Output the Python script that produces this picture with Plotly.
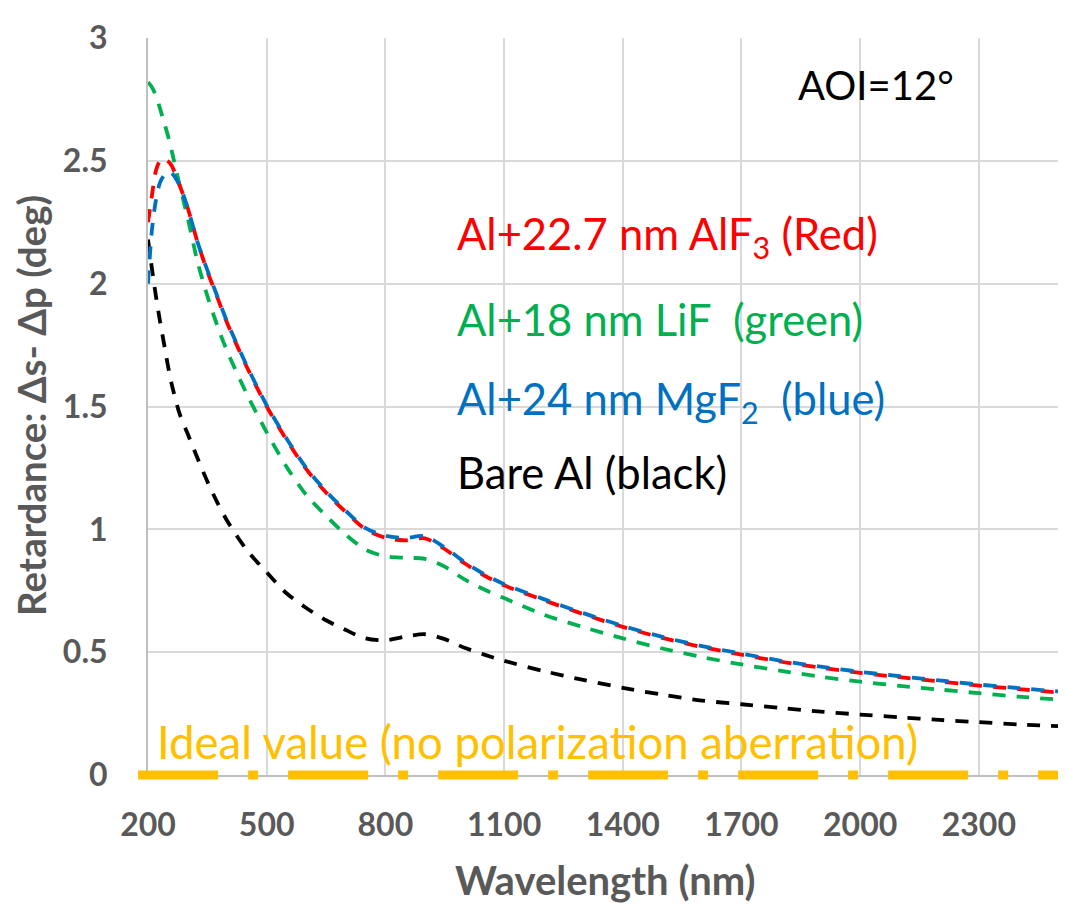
import plotly.graph_objects as go

# ---------------- data ----------------
wavelength = [200, 210, 220, 230, 240, 250, 260, 280, 300, 325, 350, 375, 400, 450, 500,
              550, 600, 650, 700, 750, 800, 850, 900, 950, 1000, 1050, 1100, 1200, 1300,
              1400, 1500, 1600, 1700, 1800, 1900, 2000, 2100, 2200, 2300, 2400, 2500]

alf3_red = [2.25, 2.36, 2.46, 2.50, 2.51, 2.50, 2.48, 2.40, 2.31, 2.17, 2.05, 1.945, 1.84, 1.66, 1.50,
            1.365, 1.245, 1.15, 1.07, 1.00, 0.966, 0.955, 0.963, 0.92, 0.862, 0.812, 0.772, 0.712, 0.655,
            0.603, 0.558, 0.521, 0.49, 0.461, 0.437, 0.416, 0.398, 0.381, 0.364, 0.35, 0.336]

lif_green = [2.82, 2.80, 2.765, 2.715, 2.66, 2.605, 2.54, 2.40, 2.27, 2.09, 1.95, 1.83, 1.725, 1.55, 1.395,
             1.255, 1.14, 1.055, 0.978, 0.917, 0.89, 0.884, 0.88, 0.848, 0.796, 0.755, 0.72, 0.653, 0.602,
             0.556, 0.515, 0.48, 0.45, 0.424, 0.40, 0.38, 0.363, 0.348, 0.333, 0.319, 0.307]

mgf2_blue = [2.00, 2.22, 2.34, 2.41, 2.44, 2.455, 2.45, 2.40, 2.31, 2.17, 2.055, 1.95, 1.845, 1.665, 1.505,
             1.37, 1.25, 1.155, 1.075, 1.005, 0.974, 0.965, 0.972, 0.926, 0.867, 0.817, 0.777, 0.716, 0.659,
             0.607, 0.562, 0.525, 0.494, 0.465, 0.441, 0.42, 0.402, 0.385, 0.368, 0.354, 0.34]

bare_al_black = [2.18, 2.06, 1.95, 1.85, 1.76, 1.67, 1.59, 1.47, 1.39, 1.29, 1.195, 1.11, 1.035, 0.915, 0.825,
                 0.74, 0.68, 0.63, 0.59, 0.556, 0.548, 0.563, 0.573, 0.553, 0.518, 0.49, 0.465, 0.423, 0.387,
                 0.355, 0.327, 0.303, 0.288, 0.273, 0.258, 0.246, 0.235, 0.224, 0.215, 0.206, 0.199]

ideal_wavelength = [175, 2530]
ideal_value = [0, 0]

x_range = [200, 2500]
y_range = [0, 3]

# ---------------- layout geometry ----------------
OFF = 8                      # page body margin of the html page
W, H = 1066 - OFF, 907 - OFF
PL, PR, PT, PB = 148, 1058, 38, 775   # plot-area box in screen pixels

def fx(px):
    return (px - OFF) / W

def fy(py):
    return 1 - (py - OFF) / H

sx = (PR - PL) / (x_range[1] - x_range[0])
sy = (PB - PT) / (y_range[1] - y_range[0])
x2_range = [x_range[0] - (PL - OFF) / sx, x_range[1] + (1066 - PR) / sx]
y2_range = [y_range[0] - (907 - PB) / sy, y_range[1] + (PT - OFF) / sy]

FONT = "Lato"
GRAY = "#595959"

fig = go.Figure()

series = [
    (bare_al_black, "#000000", "Bare Al"),
    (lif_green, "#00B050", "Al+18 nm LiF"),
    (alf3_red, "#FF0000", "Al+22.7 nm AlF3"),
    (mgf2_blue, "#0070C0", "Al+24 nm MgF2"),
]
for vals, col, name in series:
    fig.add_trace(go.Scatter(
        x=wavelength, y=vals, mode="lines", name=name,
        line=dict(color=col, width=3.8, dash="13px,11px", shape="spline", smoothing=0.8),
        showlegend=False, xaxis="x", yaxis="y"))

fig.add_trace(go.Scatter(
    x=ideal_wavelength, y=ideal_value, mode="lines", name="Ideal",
    line=dict(color="#FFC000", width=9, dash="80px,30px,10px,30px"),
    showlegend=False, xaxis="x2", yaxis="y2"))

fig.update_layout(
    template="none",
    width=W, height=H,
    margin=dict(l=0, r=0, t=0, b=0, pad=0, autoexpand=False),
    paper_bgcolor="white", plot_bgcolor="rgba(0,0,0,0)",
    font=dict(family=FONT, color=GRAY),
    xaxis=dict(
        domain=[fx(PL), fx(PR)], range=x_range, tick0=200, dtick=300,
        showgrid=True, gridcolor="#d9d9d9", gridwidth=2,
        showline=True, linecolor="#bfbfbf", linewidth=2,
        zeroline=False, ticks="", ticklabelstandoff=21, automargin=False,
        tickfont=dict(family=FONT, size=32, color=GRAY, weight="bold"),
        anchor="y",
    ),
    yaxis=dict(
        domain=[fy(PB), fy(PT)], range=y_range, dtick=0.5,
        showgrid=True, gridcolor="#d9d9d9", gridwidth=2,
        showline=True, linecolor="#bfbfbf", linewidth=2,
        zeroline=False, ticks="", ticklabelstandoff=32, automargin=False,
        tickfont=dict(family=FONT, size=32, color=GRAY, weight="bold"),
        anchor="x",
    ),
    xaxis2=dict(domain=[0, 1], range=x2_range, visible=False, anchor="y2",
                fixedrange=True, automargin=False),
    yaxis2=dict(domain=[0, 1], range=y2_range, visible=False, anchor="x2",
                fixedrange=True, automargin=False),
)

ann = []
# axis titles
ann.append(dict(text="Wavelength (nm)", x=fx(605), y=fy(880), xref="paper", yref="paper",
                xanchor="center", yanchor="middle", showarrow=False, borderpad=0,
                font=dict(family=FONT, size=40, color=GRAY, weight="bold")))
ann.append(dict(text="Retardance: Δs- Δp (deg)", x=fx(31), y=fy(406), xref="paper", yref="paper",
                xanchor="center", yanchor="middle", showarrow=False, textangle=-90, borderpad=0,
                font=dict(family=FONT, size=38.5, color=GRAY, weight="bold")))
# in-plot labels
labels = [
    ("AOI=12°", "#000000", 796, 85, 40),
    ("Al+22.7 nm AlF<sub>3</sub> (Red)", "#FF0000", 455, 236, 43.5),
    ("Al+18 nm LiF  (green)", "#00B050", 455, 319, 43.5),
    ("Al+24 nm MgF<sub>2</sub>  (blue)", "#0070C0", 455, 401, 43.5),
    ("Bare Al (black)", "#000000", 455, 472, 43.5),
    ("Ideal value (no polarization aberration)", "#FFC000", 155, 741, 45.5),
]
for txt, col, px, py, sz in labels:
    ann.append(dict(text=txt, x=fx(px), y=fy(py), xref="paper", yref="paper",
                    xanchor="left", yanchor="middle", showarrow=False,
                    font=dict(family=FONT, size=sz, color=col)))
fig.update_layout(annotations=ann)

fig.write_html("out.html")
